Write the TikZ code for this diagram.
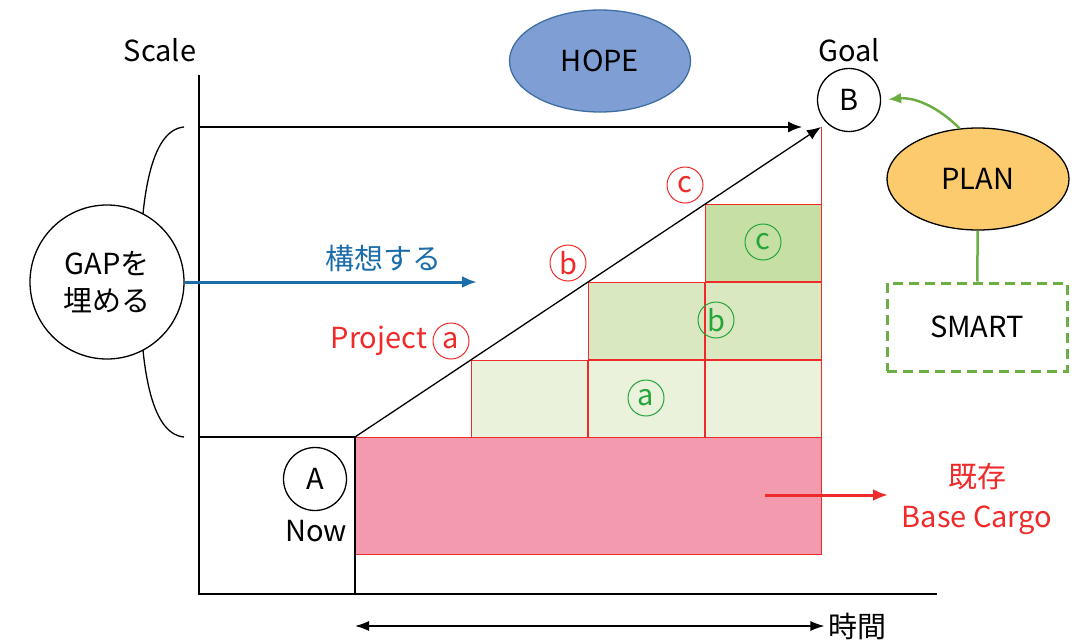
\documentclass[tikz,border=0pt]{standalone}
\usepackage{fontspec}
\setmainfont{Noto Sans CJK JP}
\usetikzlibrary{arrows.meta,shapes.geometric,positioning}
\definecolor{cargoRed}{HTML}{EE2A2A}
\definecolor{cargoPink}{HTML}{F49AAE}
\definecolor{stepLight}{HTML}{EAF2DC}
\definecolor{stepMid}{HTML}{D9E8C0}
\definecolor{stepDark}{HTML}{C6DFA4}
\definecolor{planGreen}{HTML}{6DAE44}
\definecolor{markGreen}{HTML}{23A53A}
\definecolor{ideaBlue}{HTML}{1B6DAA}
\definecolor{hopeBlue}{HTML}{7F9FD4}
\definecolor{hopeLine}{HTML}{3E6EA6}
\definecolor{planYellow}{HTML}{FCCB6E}

\begin{document}
\begin{tikzpicture}[x=1pt, y=-1pt, font=\fontsize{29}{34}\selectfont,
        thinline/.style={line width=1.3},
        tip/.style={-{Latex[length=14,width=11]}},
        redmark/.style={circle, draw=cargoRed, text=cargoRed, line width=1, inner sep=0, minimum size=36},
        greenmark/.style={circle, draw=markGreen, text=markGreen, line width=1, inner sep=0, minimum size=36},
        pointnode/.style={circle, draw, thinline, fill=white, inner sep=0, minimum size=63}]
    \useasboundingbox (0,0) rectangle (1075,642);

    % axes
    \coordinate (ytop) at (199,75);
    \coordinate (origin) at (199,594);
    \coordinate (xend) at (937,594);
    \node[] (scale) at (160,50) {Scale};
    \node[] (goal) at (849,50) {Goal};

    % base cargo and steps
    \draw[cargoRed, fill=cargoPink, line width=1] (355,437) rectangle (821,554);
    \foreach \cx/\cy/\cFill in {471/360/stepLight, 588/360/stepLight, 705/360/stepLight,
            588/282/stepMid, 705/282/stepMid, 705/204/stepDark}
        \draw[cargoRed, fill=\cFill, line width=1] (\cx,\cy) rectangle ++(116,77);
    \draw[cargoRed, line width=1] (821,127) -- (821,437);

    \coordinate (levelleft) at (199,437);
    \coordinate (start) at (355,437);
    \coordinate (startfoot) at (355,594);
    \coordinate (top) at (821,127);
    \coordinate (gaptop) at (199,127);
    \coordinate (hopeend) at (802,127);
    \draw[thinline] (ytop) -- (origin) -- (xend);
    \draw[thinline] (levelleft) -- (start) -- (startfoot);
    \draw[thinline, tip] (gaptop) -- (hopeend);
    \draw[thinline, tip] (start) -- (top);

    % gap
    \draw[thinline] (184,127) .. controls (150,130) and (140,200) .. (140,282)
        .. controls (140,364) and (150,434) .. (184,437);
    \node[circle, draw, thinline, fill=white, minimum size=154, inner sep=0, align=center,
        font=\fontsize{29}{37}\selectfont] (gap) at (107,282) {GAPを\\埋める};
    \coordinate (ideaend) at (477,282);
    \draw[ideaBlue, line width=3, -{Latex[length=15,width=12]}] (gap.east) -- (ideaend);
    \node[text=ideaBlue] (idea) at (383,258) {構想する};

    \node[ellipse, draw=hopeLine, fill=hopeBlue, thinline, minimum width=181, minimum height=102] (hope) at (600,61) {HOPE};
    \node[pointnode] (b) at (849,100) {B};
    \node[pointnode] (a) at (315,479) {A};
    \node[] (now) at (316,531) {Now};

    % projects
    \node[redmark] (pa) at (451,341) {a};
    \node[text=cargoRed, left=2pt of pa] (project) {Project};
    \node[redmark] (pb) at (568,263) {b};
    \node[redmark] (pc) at (685,185) {c};
    \node[greenmark] (ga) at (646,398) {a};
    \node[greenmark] (gb) at (716,320) {b};
    \node[greenmark] (gc) at (763,242) {c};

    % plan
    \node[ellipse, draw, thinline, fill=planYellow, minimum width=182, minimum height=102] (plan) at (978,179) {PLAN};
    \node[draw=planGreen, line width=3, dash pattern=on 10 off 6, minimum width=180, minimum height=88] (smart) at (977,327) {SMART};
    \draw[planGreen, line width=2.5] (smart) -- (plan);
    \draw[planGreen, line width=2.5, -{Latex[length=13,width=11]}, shorten >=7] (plan.110) to[bend right=25] (b.east);

    \node[text=cargoRed, align=center, font=\fontsize{29}{40}\selectfont] (cargo) at (977,499) {既存\\Base Cargo};
    \coordinate (cargostart) at (765,495);
    \coordinate (cargoend) at (888,495);
    \draw[cargoRed, line width=3, -{Latex[length=15,width=12]}] (cargostart) -- (cargoend);

    \node[] (time) at (857,626) {時間};
    \coordinate (timestart) at (355,626);
    \draw[thinline, {Latex[length=14,width=10]}-{Latex[length=14,width=10]}] (timestart) -- (time.west);
\end{tikzpicture}
\end{document}
